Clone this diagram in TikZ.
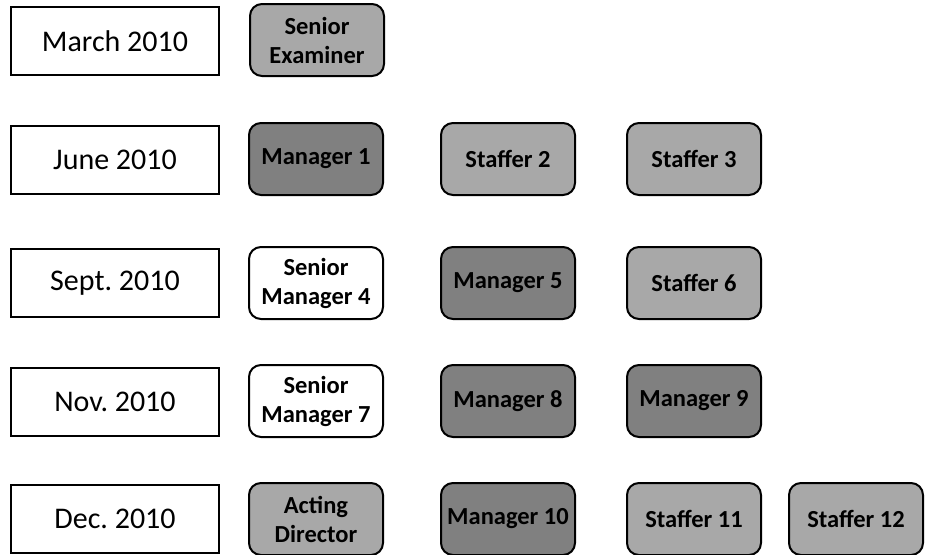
\documentclass[tikz,border=0pt]{standalone}
\usepackage{fontspec}
\setmainfont{Carlito}
\frenchspacing
\definecolor{mgrgray}{gray}{0.50}
\definecolor{stfgray}{gray}{0.66}
\tikzset{
  datebox/.style={draw, line width=1.8pt, minimum width=208pt, minimum height=68pt,
    inner sep=0pt, font=\fontsize{30}{34}\selectfont},
  rankbox/.style={draw, line width=2pt, rounded corners=12pt, minimum width=134pt,
    minimum height=72pt, inner sep=0pt, align=center,
    font=\bfseries\fontsize{24.5}{29}\selectfont},
  mgr/.style={rankbox, fill=mgrgray},
  stf/.style={rankbox, fill=stfgray},
  snr/.style={rankbox, fill=white},
}
\begin{document}
\begin{tikzpicture}[x=1pt,y=-1pt]
  \useasboundingbox (0,0) rectangle (933,554);
  % dates
  \node[datebox] (mar) at (115,41) {March 2010};
  \node[datebox] (jun) at (115,160) {June 2010};
  \node[datebox] (sep) at (115,283) {Sept. 2010};
  \node[datebox] (nov) at (115,402) {Nov. 2010};
  \node[datebox] (dec) at (115,519) {Dec. 2010};
  % positions
  \node[stf] (exam) at (317,40) {Senior\\Examiner};
  \node[mgr] (mgr1) at (316,159) {Manager 1};
  \node[stf] (stf2) at (508,159) {Staffer 2};
  \node[stf] (stf3) at (694,159) {Staffer 3};
  \node[snr] (smgr4) at (316,283) {Senior\\Manager 4};
  \node[mgr] (mgr5) at (508,283) {Manager 5};
  \node[stf] (stf6) at (694,283) {Staffer 6};
  \node[snr] (smgr7) at (316,401) {Senior\\Manager 7};
  \node[mgr] (mgr8) at (508,401) {Manager 8};
  \node[mgr] (mgr9) at (694,401) {Manager 9};
  \node[stf] (act) at (316,519) {Acting\\Director};
  \node[mgr] (mgr10) at (508,519) {Manager 10};
  \node[stf] (stf11) at (694,519) {Staffer 11};
  \node[stf] (stf12) at (856,519) {Staffer 12};
\end{tikzpicture}
\end{document}
